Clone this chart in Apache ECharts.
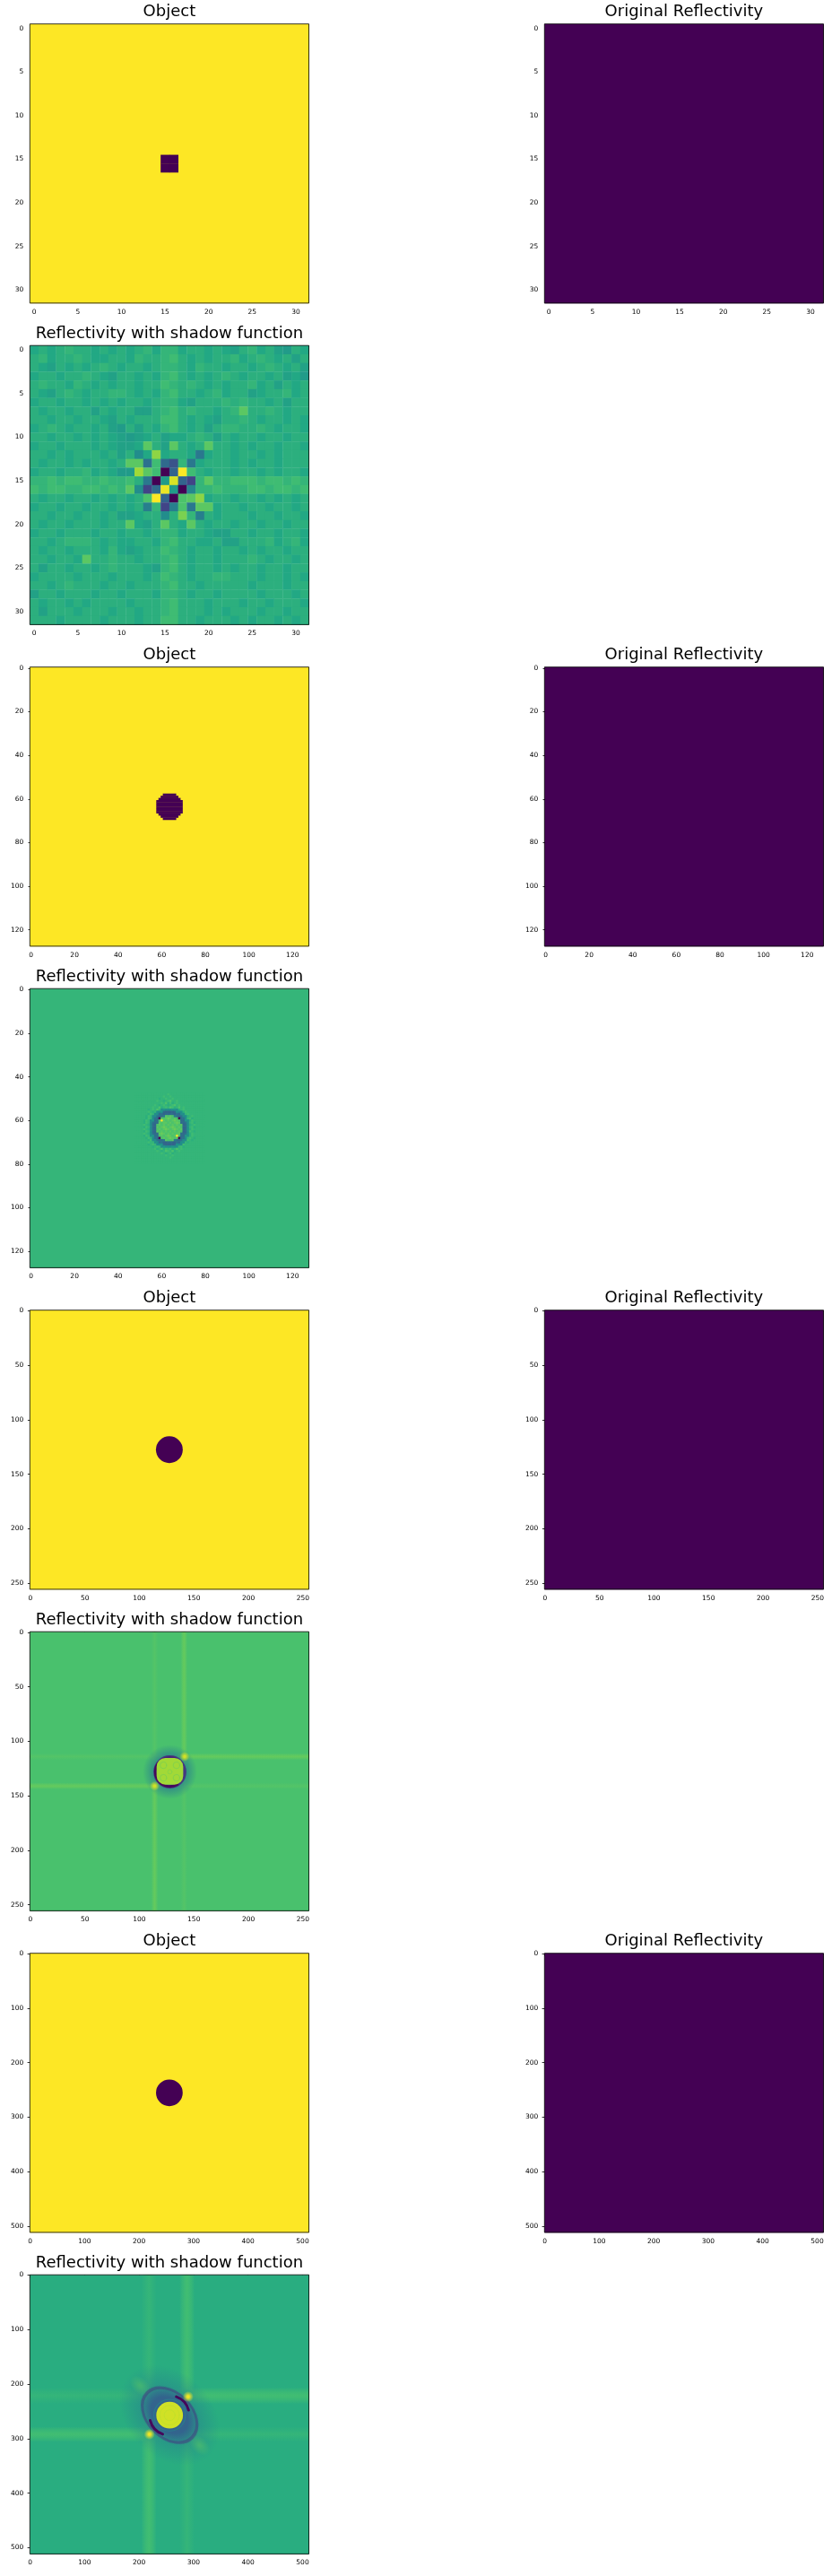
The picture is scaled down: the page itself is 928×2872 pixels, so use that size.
<!DOCTYPE html>
<html>
<head>
<meta charset="utf-8">
<script src="https://cdn.jsdelivr.net/npm/echarts@6/dist/echarts.min.js"></script>
<style>
html,body{margin:0;padding:0;background:#fff;}
#chart{width:928px;height:2872px;}
</style>
</head>
<body>
<div id="chart"></div>
<script>
// ---------------- data ----------------
const sizes = [32, 128, 256, 512];
const ticks32 = [0, 5, 10, 15, 20, 25, 30];
const ticks128 = [0, 20, 40, 60, 80, 100, 120];
const ticks256 = [0, 50, 100, 150, 200, 250];
const ticks512 = [0, 100, 200, 300, 400, 500];
const panelTitles = ['Object', 'Original Reflectivity', 'Reflectivity with shadow function'];

const objectValue = 1;          // object background level
const holeValue = 0;            // dark object
const reflectivityValue = 0;    // original reflectivity (uniform)

// Object 32: dark cells [col,row]
const objectHole32 = [[15, 15], [16, 15], [15, 16], [16, 16]];
// Object 128: [row, firstCol, lastCol]
const objectRows128 = [[58, 61, 66], [59, 60, 67], [60, 59, 68], [61, 58, 69], [62, 58, 69], [63, 58, 69],
  [64, 58, 69], [65, 58, 69], [66, 58, 69], [67, 59, 68], [68, 60, 67], [69, 61, 66]];
// Object 256 / 512: [centerCol, centerRow, radius]
const objectDisc256 = [127.5, 127.5, 12.3];
const objectDisc512 = [255.5, 255.5, 24.5];

// level code: char index in LEVELS / 35
const LEVELS = '0123456789abcdefghijklmnopqrstuvwxyz';

// Reflectivity with shadow function, 32x32 (rows 0..31)
const shadow32 = [
  'lmlmnmml mlmlmnln nlmmlmlk mnlmkjml',
  'mnlmmnml lmmlnmmn omlmlmmn lmnmlmkm',
  'mlkmlmlm nmlmmlmn nmlnmmlm mlmnmlmk',
  'lmmlmmnm lkmmlmln omlmlmnm lmmlmklj',
  'mnmmlnml mlmmlmmo nmnmlmlm mnlmkmlm',
  'mlkmnmlm mnnmlmln ommlmnlm mklmmnlm',
  'lmmlmmlm lmlmmlmn nlkmmmnm nmmlmkmm',
  'mlmmlmmk mlmmkkmn omnmmlmn qmmnmlmm',
  'mmlmmlmm lkmlmmmo omlmlkmm nmlmmlml',
  'lmnmlmml mkjmkmln omlmkmnn mmnmlmml',
  'mmlmmlml mlkjklmk llmnmkml mmlmmlmm',
  'lmmlmmml mlkklqmk qmlmqmml mlmmlmml',
  'mmlmlmmm lmkmhltl mmlelmml mmlmlmmm',
  'mlmmlmlm mlmqqdoc 9nelmmml mlmmlmmm',
  'lmmlmmnl mljjuqo0 bzomlmml mmlmlmml',
  'nnonoonn onnome0j xb7nqnno oonoonon',
  'onoonnoo nonqh7cy j0gnnonn noonoono',
  'mlmmlmml mlmlmpzb 0pqtlmml mmlmlmlm',
  'lmmlmmlm mlmlmfn7 fpeqqlmm lmmlmmlm',
  'mmlmmlmm lmkklmmh msnfmlmm mlmmlmml',
  'mlmmlmmm lmmqlkmq mlqmlmml mmlmmlmm',
  'lmmlmmml mmlmmlmn nlmmlkkm mlmmlmml',
  'mmlmnnnm lmllmmln ommllmkk mmmnlmnl',
  'mlmmlmmm lnlklmmo nmlmmlmm lmlmmlmm',
  'mmlmmlqm mnmmlmmn omlmmlmm mnmlmmlm',
  'mkmmlmml mnmmmlkn omlmmlml mmlmmlmm',
  'lmmmmlmm mlmmmlmo nmlmmnnm mmlmmlml',
  'mmlmnmmm lmmlmmmn ommlmmmm mlmmmlmm',
  'kmmlmmml mmlmmmln nmlmmlmm mmlmmmlm',
  'mlmmlmlm mmmlmmmn ommmlmmm lmmlmmml',
  'mkmmmlmm mlmmlmmn ommmlmlm mmlmmlmm',
  'mmmlmmmm lmmmlmmo ommlmmml mlmmlmlm'
];

// Reflectivity with shadow function, 128x128: uniform level + central block (cols/rows 48..79)
const shadow128Background = 23 / 35;
const shadow128Origin = [48, 48];
const shadow128Core = [
  'nnnnnnnn nnnnnnno nnnnnnnn nnnnnnnn',
  'nnnnnnnn nnnnnonn onnnnnnn nnnnnnnn',
  'nnnnnnnn nnnmnnon nonnnnnn nnnnnnnn',
  'nnnnnnnn nnonnmno pnnonnnn nnnnnnnn',
  'nnnnnnnn nnnnonpm omnonnnn nnnnnnnn',
  'nnnnnnnn nonmnonm nopnonnn nnnnnnnn',
  'nnnnnnnn onnpmnon pomnpnon nnnnnnnn',
  'nnnnnnmn onpnhihh hiihmnon nnnnnnnn',
  'nnnnnnon mnhhicbb bbcihhmo nnnnnnnn',
  'nnnnnnmo nhhcdbcc ccbdchhn onnnnnnn',
  'nnnnnmon hhdcceqp qpeccdhh mnonnnnn',
  'nnnnnmon hdc0qpqr qpqp0cdh nomnnnnn',
  'nnnnmonh iccpzqpq pqrqpcci hmonnnnn',
  'nnnnmonh dccqpqqp qpqrqccd hnomnnnn',
  'nnnnonmh cbpqpqpq pqpqpqbc hmnonnnn',
  'nnnnmonh cbqpqrqp qrqpqpbc hnomnnnn',
  'nnnnonmh cbpqpqrq pqrqpqbc hmonnnnn',
  'nnnnmonh cbqpqpqp qpqpqpbc honmnnnn',
  'nnnnonmh dccqrqpq pqpqqccd hmonnnnn',
  'nnnnmonh iccpqpqr qpqzpcci hmonnnnn',
  'nnnnnmon hdc0pqpq rqpq0cdh nonmnnnn',
  'nnnnnnmo hhdcceqp pqeccdhh onmnnnnn',
  'nnnnnnon nhhcdbbc cbbdchhn mnnnnnnn',
  'nnnnnnmn onhhicbb bbcihhon nnnnnnnn',
  'nnnnnnnn mnonhihh hihhnomn nnnnnnnn',
  'nnnnnnnn nomnpmon omnpnonn nnnnnnnn',
  'nnnnnnnn nnonmnpo npmnonnn nnnnnnnn',
  'nnnnnnnn nnnnonmn omnnnnnn nnnnnnnn',
  'nnnnnnnn nnnnnnon nonnnnnn nnnnnnnn',
  'nnnnnnnn nnnnnnnn onnnnnnn nnnnnnnn',
  'nnnnnnnn nnnnnnnn nnnnnnnn nnnnnnnn',
  'nnnnnnnn nnnnnnnn nnnnnnnn nnnnnnnn'
];

// Reflectivity with shadow function, 256x256
const shadow256Background = 0.71;
// soft bands [x0, y0, x1, y1, level, direction(0 = vertical, 1 = horizontal)]
const shadow256Bands = [
  [111, -0.5, 117, 255.5, 0.73, 0], [111, 135, 117, 255.5, 0.76, 0],
  [138, -0.5, 144, 255.5, 0.73, 0], [138, -0.5, 144, 120, 0.76, 0],
  [-0.5, 111, 255.5, 117, 0.73, 1], [135, 111, 255.5, 117, 0.76, 1],
  [-0.5, 138, 255.5, 144, 0.73, 1], [-0.5, 138, 120, 144, 0.76, 1]
];
// soft blobs [cx, cy, rx, ry, rotationDeg, level, opacity, solidCore]
const shadow256Blobs = [
  [128, 128, 25, 25, 0, 0.42, 0.95, 0.45]
];
// strokes [cx, cy, rx, ry, rotationDeg, width, level, startDeg, endDeg, opacity]
const shadow256Rings = [
  [128, 128, 13.6, 13.6, 0, 3.0, 0.16, 0, 360, 1],
  [128, 128, 13.4, 13.4, 0, 2.4, 0.02, 60, 215, 1],
  [128, 128, 13.4, 13.4, 0, 1.8, 0.1, 225, 300, 1]
];
// disc [cx, cy, halfSize, cornerRadius, level]
const shadow256Disc = [[128, 127.5, 12.2, 8, 0.86]];
const shadow256Texture = [
  [122, 122, 3, 3, 0, 0.7, 0.78, 0, 360, 0.7], [134, 122, 3, 3, 0, 0.7, 0.78, 0, 360, 0.7],
  [122, 133.5, 3, 3, 0, 0.7, 0.78, 0, 360, 0.7], [134, 133.5, 3, 3, 0, 0.7, 0.78, 0, 360, 0.7],
  [128, 128, 2, 2, 0, 0.7, 0.8, 0, 360, 0.7]
];
const shadow256Spots = [
  [141.5, 114, 4.5, 4.5, 0, 0.93, 1, 0.2], [114, 141, 4.5, 4.5, 0, 0.93, 1, 0.2]
];

// Reflectivity with shadow function, 512x512
const shadow512Background = 0.62;
const shadow512Bands = [
  [204, -0.5, 232, 511.5, 0.655, 0], [204, 290, 232, 511.5, 0.69, 0],
  [274, -0.5, 302, 511.5, 0.655, 0], [274, -0.5, 302, 225, 0.69, 0],
  [-0.5, 278, 511.5, 306, 0.655, 1], [-0.5, 278, 222, 306, 0.69, 1],
  [-0.5, 206, 511.5, 236, 0.655, 1], [288, 206, 511.5, 236, 0.69, 1]
];
const shadow512Blobs = [
  [256, 257, 105, 78, 45, 0.45, 0.85, 0.3],
  [202, 203, 22, 15, 45, 0.74, 0.5, 0.1],
  [311, 312, 22, 15, 45, 0.74, 0.5, 0.1],
  [256, 257, 64, 46, 45, 0.32, 1, 0.6]
];
const shadow512Rings = [
  [256, 257, 58, 41, 45, 5, 0.16, 0, 360, 0.5],
  [256, 257, 37, 37, 0, 5, 0.02, 110, 165, 1],
  [256, 257, 36, 36, 0, 5, 0.02, 290, 345, 1],
  [256, 257, 29, 29, 0, 2, 0.45, 0, 360, 0.6]
];
const shadow512Disc = [[256, 257, 24.5, 0, 0.93]];
const shadow512Texture = [
  [256, 257, 10, 10, 0, 1.2, 0.88, 0, 360, 0.6], [256, 257, 18, 18, 0, 1.2, 0.88, 0, 360, 0.5]
];
const shadow512Spots = [
  [290, 223, 10, 10, 0, 0.98, 1, 0.2], [219, 292, 10, 10, 0, 0.98, 1, 0.2]
];

// ---------------- colours ----------------
const VIRIDIS = ['#440154', '#482475', '#414487', '#355f8d', '#2a788e', '#21918c', '#22a884', '#44bf70', '#7ad151', '#bddf26', '#fde725']
  .map(h => [parseInt(h.slice(1, 3), 16), parseInt(h.slice(3, 5), 16), parseInt(h.slice(5, 7), 16)]);
function viridisRGB(t) {
  t = Math.max(0, Math.min(1, t)) * 10;
  const i = Math.min(9, Math.floor(t)), f = t - i;
  const a = VIRIDIS[i], b = VIRIDIS[i + 1];
  return [0, 1, 2].map(k => Math.round(a[k] + (b[k] - a[k]) * f));
}
function rgba(c, a) { return 'rgba(' + c[0] + ',' + c[1] + ',' + c[2] + ',' + a + ')'; }

// ---------------- renderers ----------------
function rectItem(params, api) {
  const a = api.coord([api.value(0), api.value(1)]);
  const b = api.coord([api.value(2), api.value(3)]);
  return {
    type: 'rect',
    shape: { x: Math.min(a[0], b[0]), y: Math.min(a[1], b[1]), width: Math.abs(b[0] - a[0]) + 0.35, height: Math.abs(b[1] - a[1]) + 0.35 },
    style: { fill: rgba(viridisRGB(api.value(4)), 1), lineWidth: 0 }
  };
}
function bandItem(params, api) {
  const a = api.coord([api.value(0), api.value(1)]);
  const b = api.coord([api.value(2), api.value(3)]);
  const c = viridisRGB(api.value(4));
  const dir = api.value(5);
  return {
    type: 'rect',
    shape: { x: Math.min(a[0], b[0]), y: Math.min(a[1], b[1]), width: Math.abs(b[0] - a[0]), height: Math.abs(b[1] - a[1]) },
    style: {
      lineWidth: 0,
      fill: { type: 'linear', x: 0, y: 0, x2: dir === 0 ? 1 : 0, y2: dir === 0 ? 0 : 1, global: false,
        colorStops: [{ offset: 0, color: rgba(c, 0) }, { offset: 0.5, color: rgba(c, 1) }, { offset: 1, color: rgba(c, 0) }] }
    }
  };
}
function blobItem(params, api) {
  const p = api.coord([api.value(0), api.value(1)]);
  const s = api.size([api.value(2), api.value(3)]);
  const c = viridisRGB(api.value(5));
  const al = api.value(6), core = api.value(7);
  return {
    type: 'circle', x: p[0], y: p[1], rotation: -api.value(4) * Math.PI / 180,
    scaleX: s[0] / 100, scaleY: s[1] / 100,
    shape: { cx: 0, cy: 0, r: 100 },
    style: {
      lineWidth: 0,
      fill: { type: 'radial', x: 0.5, y: 0.5, r: 0.5, global: false,
        colorStops: [{ offset: 0, color: rgba(c, al) }, { offset: core, color: rgba(c, al) }, { offset: 1, color: rgba(c, 0) }] }
    }
  };
}
function arcItem(params, api) {
  const p = api.coord([api.value(0), api.value(1)]);
  const s = api.size([api.value(2), api.value(3)]);
  const lw = api.size([api.value(5), api.value(5)])[0];
  const c = viridisRGB(api.value(6));
  return {
    type: 'arc', x: p[0], y: p[1], rotation: -api.value(4) * Math.PI / 180,
    scaleX: s[0] / 100, scaleY: s[1] / 100,
    shape: { cx: 0, cy: 0, r: 100, startAngle: api.value(7) * Math.PI / 180, endAngle: api.value(8) * Math.PI / 180, clockwise: true },
    style: { fill: 'none', stroke: rgba(c, api.value(9)), lineWidth: lw, strokeNoScale: true, lineCap: 'round' }
  };
}
function discItem(params, api) {
  const p = api.coord([api.value(0), api.value(1)]);
  const r = api.size([api.value(2), api.value(2)])[0];
  const corner = api.size([api.value(3), api.value(3)])[0];
  const fill = rgba(viridisRGB(api.value(4)), 1);
  if (api.value(3) > 0) {
    return { type: 'rect', shape: { x: p[0] - r, y: p[1] - r, width: 2 * r, height: 2 * r, r: corner }, style: { fill, lineWidth: 0 } };
  }
  return { type: 'circle', shape: { cx: p[0], cy: p[1], r }, style: { fill, lineWidth: 0 } };
}
const RENDER = { rect: rectItem, band: bandItem, blob: blobItem, arc: arcItem, disc: discItem };

// ---------------- build layers ----------------
function fullRect(n, v) { return [[-0.5, -0.5, n - 0.5, n - 0.5, v]]; }
function cellsFromCodes(rows, col0, row0) {
  const out = [];
  rows.forEach((s, r) => {
    s.replace(/ /g, '').split('').forEach((ch, c) => {
      out.push([col0 + c - 0.5, row0 + r - 0.5, col0 + c + 0.5, row0 + r + 0.5, LEVELS.indexOf(ch) / 35]);
    });
  });
  return out;
}
const objectLayers = [
  [{ kind: 'rect', data: fullRect(32, objectValue).concat(objectHole32.map(([c, r]) => [c - 0.5, r - 0.5, c + 0.5, r + 0.5, holeValue])) }],
  [{ kind: 'rect', data: fullRect(128, objectValue).concat(objectRows128.map(([r, c0, c1]) => [c0 - 0.5, r - 0.5, c1 + 0.5, r + 0.5, holeValue])) }],
  [{ kind: 'rect', data: fullRect(256, objectValue) }, { kind: 'disc', data: [[objectDisc256[0], objectDisc256[1], objectDisc256[2], 0, holeValue]] }],
  [{ kind: 'rect', data: fullRect(512, objectValue) }, { kind: 'disc', data: [[objectDisc512[0], objectDisc512[1], objectDisc512[2], 0, holeValue]] }]
];
const shadowLayers = [
  [{ kind: 'rect', data: cellsFromCodes(shadow32, 0, 0) }],
  [{ kind: 'rect', data: fullRect(128, shadow128Background).concat(cellsFromCodes(shadow128Core, shadow128Origin[0], shadow128Origin[1])) }],
  [{ kind: 'rect', data: fullRect(256, shadow256Background) }, { kind: 'band', data: shadow256Bands },
   { kind: 'blob', data: shadow256Blobs }, { kind: 'arc', data: shadow256Rings }, { kind: 'disc', data: shadow256Disc },
   { kind: 'arc', data: shadow256Texture }, { kind: 'blob', data: shadow256Spots }],
  [{ kind: 'rect', data: fullRect(512, shadow512Background) }, { kind: 'band', data: shadow512Bands },
   { kind: 'blob', data: shadow512Blobs }, { kind: 'arc', data: shadow512Rings }, { kind: 'disc', data: shadow512Disc },
   { kind: 'arc', data: shadow512Texture }, { kind: 'blob', data: shadow512Spots }]
];
const tickSets = [ticks32, ticks128, ticks256, ticks512];

const panels = [];
sizes.forEach((n, k) => {
  panels.push({ row: 2 * k, col: 0, n, ticks: tickSets[k], title: panelTitles[0], layers: objectLayers[k] });
  panels.push({ row: 2 * k, col: 1, n, ticks: tickSets[k], title: panelTitles[1], layers: [{ kind: 'rect', data: fullRect(n, reflectivityValue) }] });
  panels.push({ row: 2 * k + 1, col: 0, n, ticks: tickSets[k], title: panelTitles[2], layers: shadowLayers[k] });
});

// ---------------- layout ----------------
const colLeft = [33.3, 607.3];
const rowTop0 = 26.7, rowPitch = 358.5, panelSize = 311.2;
const FONT = 'DejaVu Sans';

const grids = [], xAxes = [], yAxes = [], series = [], titles = [];
panels.forEach((p, i) => {
  const left = colLeft[p.col], top = rowTop0 + p.row * rowPitch;
  grids.push({ left, top, width: panelSize, height: panelSize, show: true, backgroundColor: 'transparent', borderColor: '#000', borderWidth: 0.8, z: 10 });
  const tickStyle = { show: true, length: 3, inside: false, lineStyle: { color: '#000', width: 0.8 }, customValues: p.ticks };
  xAxes.push({ type: 'value', gridIndex: i, min: -0.5, max: p.n - 0.5, position: 'bottom',
    axisLine: { show: false }, splitLine: { show: false }, axisTick: tickStyle,
    axisLabel: { customValues: p.ticks, margin: 6, fontSize: 7.5, fontFamily: FONT, color: '#000' } });
  yAxes.push({ type: 'value', gridIndex: i, min: -0.5, max: p.n - 0.5, inverse: true, position: 'left',
    axisLine: { show: false }, splitLine: { show: false }, axisTick: tickStyle,
    axisLabel: { customValues: p.ticks, margin: 7, fontSize: 7.5, fontFamily: FONT, color: '#000' } });
  titles.push({ text: p.title, left: left + panelSize / 2, top: top - 22, textAlign: 'center', padding: 0,
    textStyle: { fontFamily: FONT, fontSize: 18, fontWeight: 'normal', color: '#000' } });
  p.layers.forEach(L => {
    series.push({ type: 'custom', xAxisIndex: i, yAxisIndex: i, renderItem: RENDER[L.kind], data: L.data,
      silent: true, animation: false, z: 2 });
  });
});

const chart = echarts.init(document.getElementById('chart'), null, { renderer: 'canvas' });
chart.setOption({
  backgroundColor: '#ffffff',
  animation: false,
  title: titles,
  grid: grids,
  xAxis: xAxes,
  yAxis: yAxes,
  series
});
</script>
</body>
</html>
